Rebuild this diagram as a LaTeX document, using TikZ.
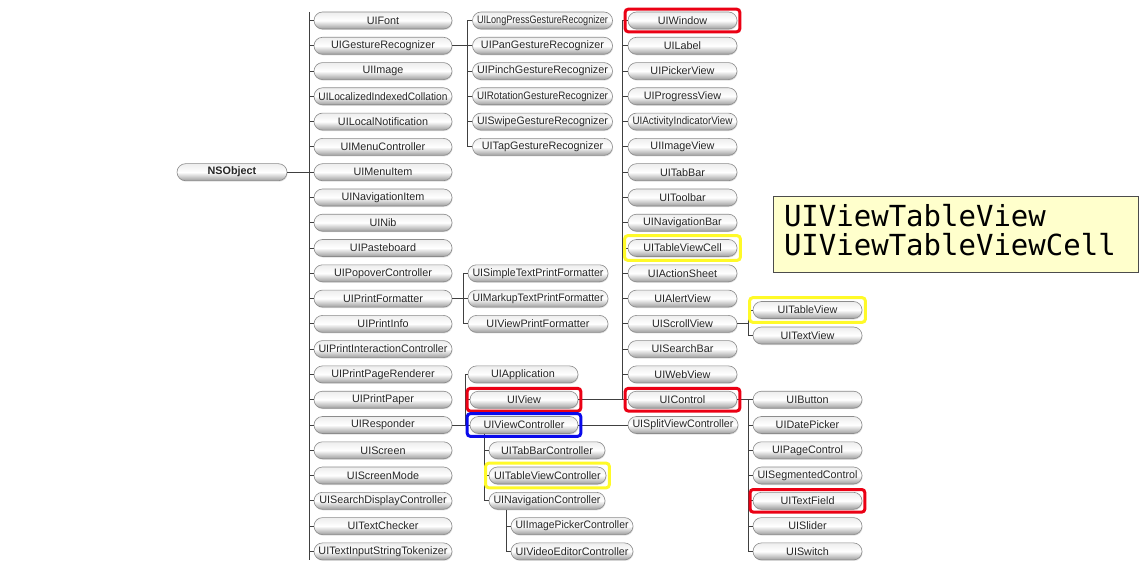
\documentclass[tikz,border=0pt]{standalone}
\usepackage{fontspec}
\setmainfont{Liberation Sans}
\newfontfamily\notefont{DejaVu Sans Mono}
\usepackage{graphicx}
\usetikzlibrary{fit,shadows}
\definecolor{hlyellow}{RGB}{255,250,40}
\definecolor{hlred}{RGB}{235,0,20}
\definecolor{hlblue}{RGB}{10,10,235}
\definecolor{notefill}{RGB}{255,255,204}
\newsavebox\fitbox
\newdimen\fitw
\newdimen\fith
\newcommand\fitt[2]{\sbox\fitbox{#2}\fitw=#1pt\relax\advance\fitw by -9pt\relax\fith=\ht\fitbox\relax\ifdim\wd\fitbox>\fitw\resizebox{\fitw}{\fith}{#2}\else\usebox\fitbox\fi}
\newcommand\pn[5]{\node[pill,minimum width=#4pt] (#1) at (#2,#3) {\fitt{#4}{#5}};}
\begin{document}
\begin{tikzpicture}[x=1pt,y=-1pt,
  pill/.style={draw=black!45, line width=0.6pt, rounded corners=8.5pt,
    minimum height=17pt, inner sep=0pt,
    top color=black!7, bottom color=black!38, middle color=white,
    font=\fontsize{10.8}{12}\selectfont, text=black!85,
    drop shadow={shadow xshift=0.6pt, shadow yshift=-1pt, opacity=0.25}},
  conn/.style={draw=black!75, line width=0.9pt},
  hl/.style={draw=#1, line width=3pt, rounded corners=3pt, inner xsep=2.5pt, inner ysep=2.5pt},
  hly/.style={draw=hlyellow, line width=3pt, rounded corners=3pt, inner xsep=3pt, inner ysep=3.5pt},
  note/.style={draw=black!70, fill=notefill, line width=0.8pt,
    minimum width=365pt, minimum height=75.5pt, text width=343pt,
    inner xsep=11pt, inner ysep=0pt, align=left,
    text height=22pt, text depth=37.6pt,
    font=\notefont\fontsize{29}{28.3}\selectfont}]
\useasboundingbox[fill=white] (0,0) rectangle (1145,572);

% root
\node[pill,minimum width=110pt,font=\fontsize{10.8}{12}\selectfont\bfseries] (nsobject) at (232,172.2) {NSObject};

% column 1
\pn{font}{383}{20.5}{138}{UIFont}
\pn{gesture}{383}{45.8}{138}{UIGestureRecognizer}
\pn{image}{383}{71.1}{138}{UIImage}
\pn{locidx}{383}{96.3}{138}{UILocalizedIndexedCollation}
\pn{locnot}{383}{121.6}{138}{UILocalNotification}
\pn{menuc}{383}{146.9}{138}{UIMenuController}
\pn{menui}{383}{172.2}{138}{UIMenuItem}
\pn{navitem}{383}{197.5}{138}{UINavigationItem}
\pn{nib}{383}{222.7}{138}{UINib}
\pn{paste}{383}{248.0}{138}{UIPasteboard}
\pn{popover}{383}{273.3}{138}{UIPopoverController}
\pn{printfmt}{383}{298.6}{138}{UIPrintFormatter}
\pn{printinfo}{383}{323.9}{138}{UIPrintInfo}
\pn{printint}{383}{349.1}{138}{UIPrintInteractionController}
\pn{printpage}{383}{374.4}{138}{UIPrintPageRenderer}
\pn{printpaper}{383}{399.7}{138}{UIPrintPaper}
\pn{responder}{383}{425.0}{138}{UIResponder}
\pn{screen}{383}{450.3}{138}{UIScreen}
\pn{screenmode}{383}{475.5}{138}{UIScreenMode}
\pn{searchdisp}{383}{500.8}{138}{UISearchDisplayController}
\pn{textcheck}{383}{526.1}{138}{UITextChecker}
\pn{tokenizer}{383}{551.4}{138}{UITextInputStringTokenizer}

% gesture recognizers
\pn{longpress}{542.5}{20.5}{140}{UILongPressGestureRecognizer}
\pn{pan}{542.5}{45.8}{140}{UIPanGestureRecognizer}
\pn{pinch}{542.5}{71.1}{140}{UIPinchGestureRecognizer}
\pn{rotation}{542.5}{96.3}{140}{UIRotationGestureRecognizer}
\pn{swipe}{542.5}{121.6}{140}{UISwipeGestureRecognizer}
\pn{tap}{542.5}{146.9}{140}{UITapGestureRecognizer}

% print formatters
\pn{simple}{538}{273.3}{140}{UISimpleTextPrintFormatter}
\pn{markup}{538}{298.6}{140}{UIMarkupTextPrintFormatter}
\pn{viewprint}{538}{323.9}{140}{UIViewPrintFormatter}

% responders
\pn{application}{523}{374.4}{110}{UIApplication}
\pn{view}{524}{399.7}{108}{UIView}
\pn{viewctrl}{524}{425.0}{108}{UIViewController}
\pn{tabbarc}{547}{450.3}{116}{UITabBarController}
\pn{tablevc}{547.5}{475.5}{117}{UITableViewController}
\pn{navc}{547}{500.8}{116}{UINavigationController}
\pn{imgpick}{572}{526.1}{122}{UIImagePickerController}
\pn{videoed}{572}{551.4}{122}{UIVideoEditorController}

% views
\pn{window}{682.5}{20.5}{109}{UIWindow}
\pn{label}{682.5}{45.8}{109}{UILabel}
\pn{picker}{682.5}{71.1}{109}{UIPickerView}
\pn{progress}{682.5}{96.3}{109}{UIProgressView}
\pn{activity}{682.5}{121.6}{109}{UIActivityIndicatorView}
\pn{imageview}{682.5}{146.9}{109}{UIImageView}
\pn{tabbar}{682.5}{172.2}{109}{UITabBar}
\pn{toolbar}{682.5}{197.5}{109}{UIToolbar}
\pn{navbar}{682.5}{222.7}{109}{UINavigationBar}
\pn{cell}{682.5}{248.0}{109}{UITableViewCell}
\pn{actionsheet}{682.5}{273.3}{109}{UIActionSheet}
\pn{alert}{682.5}{298.6}{109}{UIAlertView}
\pn{scroll}{682.5}{323.9}{109}{UIScrollView}
\pn{searchbar}{682.5}{349.1}{109}{UISearchBar}
\pn{webview}{682.5}{374.4}{109}{UIWebView}
\pn{control}{682.5}{399.7}{109}{UIControl}
\pn{splitvc}{683}{425.0}{110}{UISplitViewController}

% scroll view subclasses
\pn{tableview}{807.5}{310}{109}{UITableView}
\pn{textview}{807.5}{335.5}{109}{UITextView}

% controls
\pn{button}{807.5}{399.7}{109}{UIButton}
\pn{datepicker}{807.5}{425.0}{109}{UIDatePicker}
\pn{pagecontrol}{807.5}{450.3}{109}{UIPageControl}
\pn{segmented}{807.5}{475.5}{109}{UISegmentedControl}
\pn{textfield}{807.5}{500.8}{109}{UITextField}
\pn{slider}{807.5}{526.1}{109}{UISlider}
\pn{switch}{807.5}{551.4}{109}{UISwitch}

% trunk coordinates
\coordinate (c1top) at (309.5,12);
\coordinate (c1bot) at (309.5,560);
\coordinate (gx) at (467.5,0);
\coordinate (px) at (463,0);
\coordinate (rx) at (465,0);
\coordinate (vx) at (622.5,0);
\coordinate (vcx) at (484.5,0);
\coordinate (ncx) at (506,0);
\coordinate (sx) at (748,0);

% connectors: column 1
\draw[conn] (c1top) -- (c1bot);
\draw[conn] (nsobject.east) -- (nsobject.east -| c1top);
\foreach \n in {font,gesture,image,locidx,locnot,menuc,menui,navitem,nib,paste,popover,printfmt,printinfo,printint,printpage,printpaper,responder,screen,screenmode,searchdisp,textcheck,tokenizer}
  \draw[conn] (\n.west) -- (\n.west -| c1top);

% gesture
\draw[conn] (longpress.west -| gx) -- (tap.west -| gx);
\draw[conn] (gesture.east) -- (gesture.east -| gx);
\foreach \n in {longpress,pan,pinch,rotation,swipe,tap}
  \draw[conn] (\n.west) -- (\n.west -| gx);

% print formatters
\draw[conn] (simple.west -| px) -- (viewprint.west -| px);
\draw[conn] (printfmt.east) -- (printfmt.east -| px);
\foreach \n in {simple,markup,viewprint}
  \draw[conn] (\n.west) -- (\n.west -| px);

% responder
\draw[conn] (application.west -| rx) -- (viewctrl.west -| rx);
\draw[conn] (responder.east) -- (responder.east -| rx);
\foreach \n in {application,view,viewctrl}
  \draw[conn] (\n.west) -- (\n.west -| rx);

% views
\draw[conn] (window.west -| vx) -- (control.west -| vx);
\draw[conn] (view.east) -- (control.west);
\foreach \n in {window,label,picker,progress,activity,imageview,tabbar,toolbar,navbar,cell,actionsheet,alert,scroll,searchbar,webview}
  \draw[conn] (\n.west) -- (\n.west -| vx);

% view controllers
\draw[conn] (viewctrl.east) -- (splitvc.west);
\draw[conn] (viewctrl.south -| vcx) -- (navc.west -| vcx);
\foreach \n in {tabbarc,tablevc,navc}
  \draw[conn] (\n.west) -- (\n.west -| vcx);
\draw[conn] (navc.south -| ncx) -- (videoed.west -| ncx);
\foreach \n in {imgpick,videoed}
  \draw[conn] (\n.west) -- (\n.west -| ncx);

% scroll view
\draw[conn] (tableview.west -| sx) -- (textview.west -| sx);
\draw[conn] (scroll.east) -- (scroll.east -| sx);
\foreach \n in {tableview,textview}
  \draw[conn] (\n.west) -- (\n.west -| sx);

% controls
\draw[conn] (button.west -| sx) -- (switch.west -| sx);
\draw[conn] (control.east) -- (button.west);
\foreach \n in {datepicker,pagecontrol,segmented,textfield,slider,switch}
  \draw[conn] (\n.west) -- (\n.west -| sx);

% highlights
\node[hl=hlred, fit=(window)] (hlwindow) {};
\node[hl=hlred, fit=(view)] (hlview) {};
\node[hl=hlred, fit=(control)] (hlcontrol) {};
\node[hl=hlred, fit=(textfield)] (hltextfield) {};
\node[hl=hlblue, fit=(viewctrl)] (hlviewctrl) {};
\node[hly, fit=(cell)] (hlcell) {};
\node[hly, fit=(tableview)] (hltableview) {};
\node[hly, fit=(tablevc)] (hltablevc) {};

% note
\node[note] (note) at (955.5,234.5) {UIViewTableView\\UIViewTableViewCell};
\end{tikzpicture}
\end{document}
